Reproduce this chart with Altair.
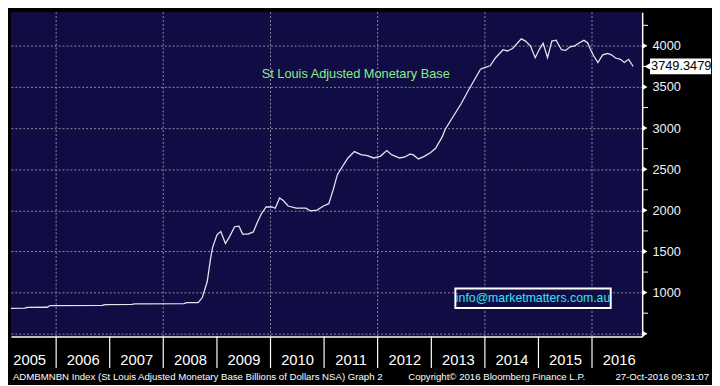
import altair as alt
import pandas as pd

# ---- data ----
dates = [
    "2005-02-27", "2005-06-01", "2005-06-20", "2005-11-01", "2005-11-20",
    "2006-11-10", "2006-12-01", "2007-06-01", "2007-06-20", "2008-05-20",
    "2008-06-10", "2008-08-26", "2008-09-24", "2008-10-27", "2008-11-18",
    "2008-12-02", "2009-01-01", "2009-01-27", "2009-02-28", "2009-03-29",
    "2009-05-01", "2009-05-31", "2009-06-25", "2009-07-31", "2009-09-06",
    "2009-10-01", "2009-10-30", "2009-12-02", "2010-01-11", "2010-02-02",
    "2010-03-04", "2010-03-29", "2010-05-01", "2010-06-25", "2010-08-29",
    "2010-10-01", "2010-11-14", "2010-12-28", "2011-02-02", "2011-03-07",
    "2011-04-01", "2011-05-11", "2011-06-13", "2011-07-27", "2011-09-09",
    "2011-10-23", "2011-12-05", "2012-01-19", "2012-03-03", "2012-04-05",
    "2012-05-30", "2012-07-05", "2012-08-07", "2012-08-29", "2012-10-05",
    "2012-11-14", "2012-12-28", "2013-01-30", "2013-03-15", "2013-04-06",
    "2013-05-31", "2013-07-24", "2013-09-09", "2013-10-23", "2013-12-02",
    "2013-12-28", "2014-02-06", "2014-03-15", "2014-05-05", "2014-06-03",
    "2014-07-09", "2014-09-06", "2014-10-05", "2014-11-07", "2014-12-10",
    "2015-01-08", "2015-02-02", "2015-03-04", "2015-04-02", "2015-05-01",
    "2015-06-07", "2015-07-06", "2015-08-04", "2015-09-06", "2015-10-02",
    "2015-11-07", "2015-12-02", "2015-12-20", "2016-01-11", "2016-02-10",
    "2016-03-14", "2016-04-16", "2016-05-12", "2016-06-10", "2016-07-13",
    "2016-08-08", "2016-09-06", "2016-10-08",
]
values = [
    808, 810, 820, 822, 843,
    845, 855, 857, 862, 866,
    878, 878, 943, 1138, 1411,
    1547, 1703, 1742, 1597, 1684,
    1801, 1808, 1711, 1711, 1738,
    1847, 1956, 2041, 2041, 2026,
    2151, 2120, 2053, 2026, 2026,
    1995, 2003, 2053, 2081, 2268,
    2431, 2548, 2637, 2715, 2677,
    2665, 2637, 2657, 2727, 2677,
    2637, 2649, 2684, 2677, 2625,
    2657, 2704, 2754, 2890, 2987,
    3144, 3299, 3455, 3591, 3716,
    3735, 3758, 3856, 3953, 3938,
    3968, 4085, 4058, 4000, 3856,
    3961, 4032, 3856, 4058, 4070,
    3953, 3945, 3988, 4000, 4032,
    4067, 4039, 3961, 3883, 3798,
    3891, 3907, 3891, 3852, 3836,
    3798, 3836, 3749.3479,
]
last_value = 3749.3479

years = list(range(2005, 2017))
year_sep_dates = [f"{y}-01-01" for y in range(2006, 2017)]
grid_dates = [f"{y}-01-01" for y in range(2006, 2017, 2)]
y_major = [500, 1000, 1500, 2000, 2500, 3000, 3500, 4000]
y_minor = [750, 1250, 1750, 2250, 2750, 3250, 3750, 4250]

title_text = "St Louis Adjusted Monetary Base"
email_text = "info@marketmatters.com.au"
footer_texts = [
    "ADMBMNBN Index (St Louis Adjusted Monetary Base Billions of Dollars NSA) Graph 2",
    "Copyright\u00a9 2016 Bloomberg Finance L.P.",
    "27-Oct-2016 09:31:07",
]

# ---- layout / style ----
W, H = 642, 330
NAVY = "#100d45"
GRID = "#8e8ea0"
FONT = "Liberation Sans"

x_scale = alt.Scale(domain=["2005-02-27", "2016-12-08"], nice=False)
y_scale = alt.Scale(domain=[465, 4410], nice=False, zero=False)

df = pd.DataFrame({"date": dates, "v": values})

line = alt.Chart(df).mark_line(color="#e4e4ee", strokeWidth=1.3).encode(
    x=alt.X("date:T", scale=x_scale, title=None,
            axis=alt.Axis(values=[alt.DateTime(year=y, month=7, date=1) for y in years],
                          format="%Y", ticks=False, grid=False, domainColor="white",
                          domainWidth=1.5, labelColor="white", labelFont=FONT,
                          labelFontSize=15, labelPadding=16, labelAlign="center")),
    y=alt.Y("v:Q", scale=y_scale, title=None,
            axis=alt.Axis(orient="right", values=y_major, grid=True, gridColor=GRID,
                          gridDash=[2, 2], gridWidth=1, ticks=False, domainColor="white",
                          domainWidth=1.5, labelColor="#eef3ff", labelFont=FONT,
                          labelFontSize=13, labelPadding=10, format="d",
                          labelExpr="datum.value < 600 ? '' : datum.label")),
)

vgrid = alt.Chart(pd.DataFrame({"date": grid_dates})).mark_rule(
    color=GRID, strokeDash=[2, 2], strokeWidth=1
).encode(x=alt.X("date:T", title=None))

seps = alt.Chart(pd.DataFrame({"date": year_sep_dates})).mark_rule(
    color="white", strokeWidth=1.2
).encode(x=alt.X("date:T", title=None), y=alt.value(H), y2=alt.value(H + 32))

tri = alt.Chart(pd.DataFrame({"v": y_major})).mark_point(
    shape="triangle-right", filled=True, size=30, color="white", opacity=1
).encode(y=alt.Y("v:Q", title=None), x=alt.value(W + 3))

minor = alt.Chart(pd.DataFrame({"v": y_minor})).mark_rule(
    color="white", strokeWidth=1
).encode(y=alt.Y("v:Q", title=None), x=alt.value(W), x2=alt.value(W + 6))

lab_df = pd.DataFrame({"v": [last_value], "t": [f"{last_value:.4f}"]})
lab_box = alt.Chart(lab_df).mark_rect(
    color="white", yOffset=-8, y2Offset=8
).encode(y=alt.Y("v:Q", title=None), y2="v", x=alt.value(W + 8), x2=alt.value(W + 70))
lab_ptr = alt.Chart(lab_df).mark_point(
    shape="triangle-left", filled=True, size=70, color="white", opacity=1
).encode(y=alt.Y("v:Q", title=None), x=alt.value(W + 6))
lab_txt = alt.Chart(lab_df).mark_text(
    align="left", baseline="middle", color="black", font=FONT, fontSize=13
).encode(y=alt.Y("v:Q", title=None), x=alt.value(W + 9), text="t:N")

title = alt.Chart(pd.DataFrame({"t": [title_text]})).mark_text(
    align="left", baseline="middle", color="#86ee86", font=FONT, fontSize=13
).encode(x=alt.value(255), y=alt.value(63), text="t:N")

email_box = alt.Chart(pd.DataFrame({"t": [email_text]})).mark_rect(
    fill=NAVY, stroke="white", strokeWidth=2
).encode(x=alt.value(452), x2=alt.value(610), y=alt.value(281), y2=alt.value(301))
email = alt.Chart(pd.DataFrame({"t": [email_text]})).mark_text(
    align="center", baseline="middle", color="#2ee6f2", font=FONT, fontSize=12.5
).encode(x=alt.value(531), y=alt.value(291), text="t:N")

foot1 = alt.Chart(pd.DataFrame({"t": [footer_texts[0]]})).mark_text(
    align="left", baseline="middle", color="white", font=FONT, fontSize=9.8
).encode(x=alt.value(2), y=alt.value(H + 41), text="t:N")
foot2 = alt.Chart(pd.DataFrame({"t": [footer_texts[1]]})).mark_text(
    align="left", baseline="middle", color="white", font=FONT, fontSize=9.8
).encode(x=alt.value(404), y=alt.value(H + 41), text="t:N")
foot3 = alt.Chart(pd.DataFrame({"t": [footer_texts[2]]})).mark_text(
    align="right", baseline="middle", color="white", font=FONT, fontSize=9.8
).encode(x=alt.value(W + 68), y=alt.value(H + 41), text="t:N")

chart = alt.layer(
    vgrid, line, seps, minor, tri, title, email_box, email,
    lab_box, lab_ptr, lab_txt, foot1, foot2, foot3
).properties(
    width=W, height=H, padding=0, background="black"
).configure_view(fill=NAVY, stroke=None)

chart.save("out.html", embed_options={"renderer": "svg", "actions": False})
